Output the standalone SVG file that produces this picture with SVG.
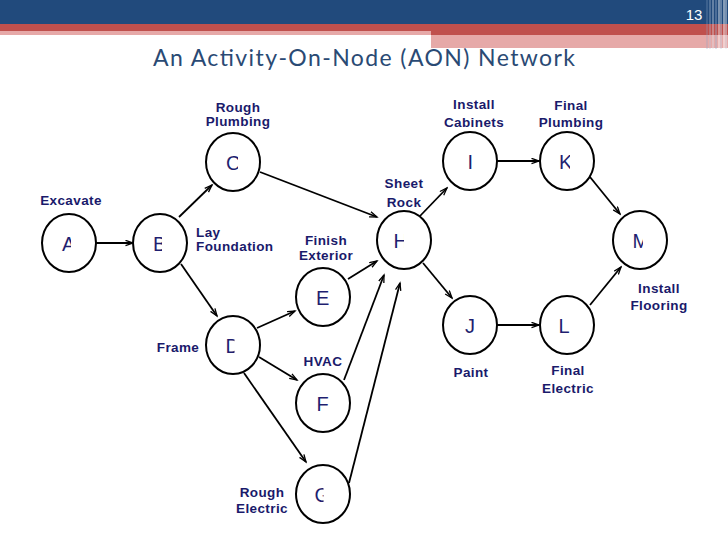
<svg xmlns="http://www.w3.org/2000/svg" width="728" height="546" viewBox="0 0 728 546">
<defs>
<style>
.node{fill:#fff;stroke:#000;stroke-width:2}
.ltr{font-family:"Liberation Sans",Arial,sans-serif;font-size:20px;fill:#1f1f70}
.lbl{font-family:"Liberation Sans",Arial,sans-serif;font-size:13.5px;font-weight:bold;fill:#1a1a6b;text-anchor:middle;letter-spacing:0.4px}
.edge{stroke:#000;stroke-width:1.8;fill:none;marker-end:url(#ah)}
</style>
<marker id="ah" markerWidth="10" markerHeight="8" refX="8" refY="3.5" orient="auto" markerUnits="userSpaceOnUse">
<path d="M0.5,0.8 L8,3.5 L0.5,6.2" fill="none" stroke="#000" stroke-width="1.3"/>
</marker>
<clipPath id="cA"><rect x="61" y="225" width="10" height="30"/></clipPath>
<clipPath id="cB"><rect x="154" y="225" width="8" height="30"/></clipPath>
<clipPath id="cC"><rect x="226" y="144" width="12" height="30"/></clipPath>
<clipPath id="cD"><rect x="226" y="327" width="8.5" height="30"/></clipPath>
<clipPath id="cG"><rect x="314" y="476" width="9.5" height="30"/></clipPath>
<clipPath id="cH"><rect x="393" y="222" width="11" height="30"/></clipPath>
<clipPath id="cK"><rect x="559" y="143" width="11" height="30"/></clipPath>
<clipPath id="cM"><rect x="632" y="222" width="11" height="30"/></clipPath>
</defs>

<g id="header">
<rect x="0" y="0" width="728" height="24" fill="#214a7c"/>
<rect x="0" y="24" width="728" height="7" fill="#c0504d"/>
<rect x="0" y="31" width="431" height="4" fill="#e6a9a8"/>
<rect x="431" y="31" width="297" height="4" fill="#c0504d"/>
<rect x="431" y="35" width="297" height="13" fill="#e6a9a8"/>
<g stroke-width="1">
<line x1="707" y1="0" x2="707" y2="49" stroke="#8fa6c6" opacity="0.5"/>
<line x1="710" y1="0" x2="710" y2="49" stroke="#b7c6dc" opacity="0.6"/>
<line x1="713" y1="0" x2="713" y2="49" stroke="#dfe6ef" opacity="0.7"/>
<line x1="716" y1="0" x2="716" y2="49" stroke="#9db1cd" opacity="0.7"/>
<line x1="719" y1="0" x2="719" y2="49" stroke="#ffffff" opacity="0.8"/>
<line x1="721" y1="0" x2="721" y2="49" stroke="#c9d4e4" opacity="0.8"/>
<line x1="724" y1="0" x2="724" y2="49" stroke="#ffffff" opacity="0.9"/>
<line x1="726" y1="0" x2="726" y2="49" stroke="#dde4ee" opacity="0.9"/>
</g>
<text x="694" y="20" font-family="'Liberation Sans',Arial,sans-serif" font-size="15" fill="#fff" text-anchor="middle">13</text>
<text x="153" y="66" font-family="Lato,'Open Sans','Liberation Sans',sans-serif" font-size="23" fill="#2a4a74" textLength="422">An Activity-On-Node (AON) Network</text>
</g>

<g id="connectors">
<line class="edge" x1="96" y1="243" x2="133" y2="243"/>
<line class="edge" x1="179" y1="217" x2="212" y2="185"/>
<line class="edge" x1="181" y1="264" x2="217" y2="316"/>
<line class="edge" x1="260" y1="172" x2="377" y2="217"/>
<line class="edge" x1="257" y1="328" x2="295" y2="311"/>
<line class="edge" x1="259" y1="357" x2="297" y2="380"/>
<line class="edge" x1="244" y1="373" x2="306" y2="462"/>
<line class="edge" x1="348" y1="279" x2="377" y2="261"/>
<line class="edge" x1="344" y1="380" x2="384" y2="275"/>
<line class="edge" x1="349" y1="483" x2="400" y2="283"/>
<line class="edge" x1="420" y1="216" x2="447" y2="188"/>
<line class="edge" x1="423" y1="263" x2="452" y2="298"/>
<line class="edge" x1="497" y1="161" x2="539" y2="161"/>
<line class="edge" x1="590" y1="177" x2="620" y2="214"/>
<line class="edge" x1="497" y1="325" x2="539" y2="325"/>
<line class="edge" x1="590" y1="305" x2="621" y2="267"/>
</g>

<g id="nodeA"><ellipse class="node" cx="69" cy="243" rx="27" ry="29"/><text class="ltr" x="62" y="251" clip-path="url(#cA)">A</text><text class="lbl" x="71" y="205">Excavate</text></g>
<g id="nodeB"><ellipse class="node" cx="160" cy="243" rx="27" ry="29"/><text class="ltr" x="153" y="251" clip-path="url(#cB)">B</text><text class="lbl" x="196" y="237" style="text-anchor:start">Lay</text><text class="lbl" x="196" y="251" style="text-anchor:start">Foundation</text></g>
<g id="nodeC"><ellipse class="node" cx="233" cy="162" rx="27" ry="29"/><text class="ltr" x="226" y="170" clip-path="url(#cC)">C</text><text class="lbl" x="238" y="112">Rough</text><text class="lbl" x="238" y="126">Plumbing</text></g>
<g id="nodeD"><ellipse class="node" cx="233" cy="345" rx="27" ry="29"/><text class="ltr" x="225.5" y="353" clip-path="url(#cD)">D</text><text class="lbl" x="178" y="352">Frame</text></g>
<g id="nodeE"><ellipse class="node" cx="323" cy="297" rx="27" ry="29"/><text class="ltr" x="316" y="305">E</text><text class="lbl" x="326" y="245">Finish</text><text class="lbl" x="326" y="260">Exterior</text></g>
<g id="nodeF"><ellipse class="node" cx="323" cy="403" rx="27" ry="29"/><text class="ltr" x="316.5" y="411">F</text><text class="lbl" x="323" y="366">HVAC</text></g>
<g id="nodeG"><ellipse class="node" cx="323" cy="494" rx="27" ry="29"/><text class="ltr" x="314.5" y="502" clip-path="url(#cG)">G</text><text class="lbl" x="262" y="497">Rough</text><text class="lbl" x="262" y="513">Electric</text></g>
<g id="nodeH"><ellipse class="node" cx="404" cy="240" rx="27" ry="29"/><text class="ltr" x="393.5" y="248" clip-path="url(#cH)">H</text><text class="lbl" x="404" y="188">Sheet</text><text class="lbl" x="404" y="207">Rock</text></g>
<g id="nodeI"><ellipse class="node" cx="470" cy="161" rx="27" ry="29"/><text class="ltr" x="467.5" y="169">I</text><text class="lbl" x="474" y="109">Install</text><text class="lbl" x="474" y="127">Cabinets</text></g>
<g id="nodeJ"><ellipse class="node" cx="470" cy="325" rx="27" ry="29"/><text class="ltr" x="465" y="333">J</text><text class="lbl" x="471" y="377">Paint</text></g>
<g id="nodeK"><ellipse class="node" cx="567" cy="161" rx="27" ry="29"/><text class="ltr" x="559" y="169" clip-path="url(#cK)">K</text><text class="lbl" x="571" y="110">Final</text><text class="lbl" x="571" y="127">Plumbing</text></g>
<g id="nodeL"><ellipse class="node" cx="567" cy="325" rx="27" ry="29"/><text class="ltr" x="558.5" y="333">L</text><text class="lbl" x="568" y="375">Final</text><text class="lbl" x="568" y="393">Electric</text></g>
<g id="nodeM"><ellipse class="node" cx="640" cy="240" rx="27" ry="29"/><text class="ltr" x="632.5" y="248" clip-path="url(#cM)">M</text><text class="lbl" x="659" y="293">Install</text><text class="lbl" x="659" y="310">Flooring</text></g>
</svg>
